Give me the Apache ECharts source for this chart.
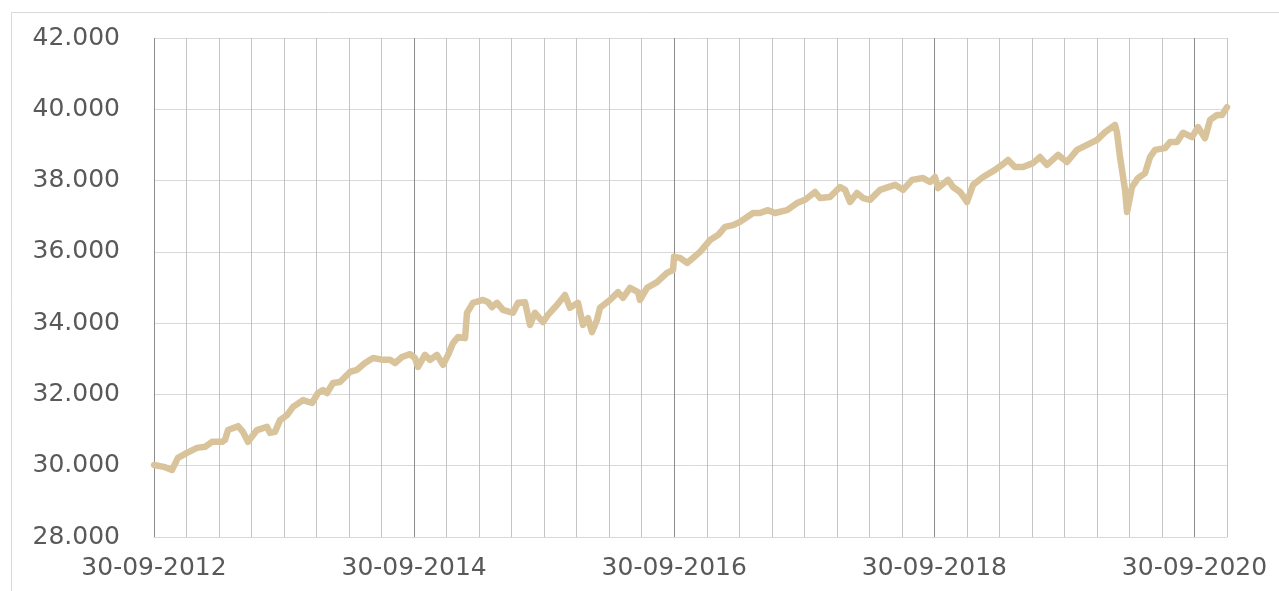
<!DOCTYPE html>
<html>
<head>
<meta charset="utf-8">
<script src="https://cdn.jsdelivr.net/npm/echarts@6/dist/echarts.min.js"></script>
<style>
html,body{margin:0;padding:0;background:#fff;}
#chart{width:1279px;height:591px;}
</style>
</head>
<body>
<div id="chart"></div>
<script>
// x values: months elapsed since 30-09-2012
const monthsSinceStart = [
  0,1.01,1.66,2.21,3.04,3.97,4.71,5.35,6.27,6.55,6.83,7.75,8.21,8.67,9.50,10.43,10.70,11.16,11.63,12.27,
  12.83,13.75,14.58,15.13,15.59,15.96,16.52,17.16,18.08,18.73,19.47,20.21,21.13,21.78,22.24,22.88,23.62,24.08,24.36,25.00,
  25.47,26.11,26.67,27.13,27.59,28.05,28.70,28.88,29.43,30.36,30.82,31.19,31.65,32.20,33.12,33.59,34.23,34.69,35.15,35.89,
  36.35,37.18,37.92,38.38,39.12,39.58,40.04,40.41,40.87,41.15,42.07,42.81,43.27,43.92,44.66,44.84,45.49,46.41,47.33,47.89,
  47.98,48.53,49.18,49.73,50.38,51.30,52.04,52.69,53.42,54.07,55.27,55.91,56.65,57.30,58.41,59.33,60.07,60.99,61.45,62.37,
  63.30,63.76,64.22,64.86,65.42,66.06,66.99,68.37,69.11,69.94,70.95,71.60,72.06,72.34,73.26,73.72,74.37,75.01,75.57,76.49,
  77.60,78.24,78.80,79.44,80.18,81.10,81.75,82.39,83.41,84.24,85.16,86.09,87.01,87.75,88.67,88.85,89.13,89.59,89.78,90.24,
  90.79,91.44,91.90,92.36,93.28,93.74,94.39,94.94,95.77,96.33,96.97,97.44,98.08,98.54,99.00
];
const seriesValues = [
  30020,29960,29880,30220,30360,30500,30530,30670,30670,30720,31000,31110,30950,30670,31000,31090,30920,30950,31280,31420,
  31650,31840,31760,32040,32120,32040,32320,32350,32630,32690,32880,33020,32970,32970,32880,33050,33130,33020,32770,33110,
  32970,33110,32830,33110,33440,33610,33580,34290,34570,34650,34590,34450,34570,34370,34290,34570,34590,33950,34290,34030,
  34230,34510,34790,34430,34570,33950,34140,33750,34090,34430,34650,34870,34710,34990,34870,34650,34990,35150,35410,35490,
  35860,35830,35690,35830,36000,36330,36470,36700,36750,36840,37090,37090,37170,37090,37170,37370,37460,37680,37510,37540,
  37820,37740,37400,37650,37510,37460,37740,37880,37740,38020,38070,37960,38100,37790,38020,37820,37680,37400,37880,38100,
  38300,38440,38580,38380,38380,38490,38660,38440,38720,38520,38860,39000,39140,39360,39560,39340,38660,37740,37120,37820,
  38070,38210,38660,38860,38910,39080,39080,39340,39220,39500,39190,39700,39840,39840,40060
];
// x-axis tick labels at 0, 24, 48, 72, 96 months
const xTickLabels = ['30-09-2012','30-09-2014','30-09-2016','30-09-2018','30-09-2020'];
const yMin = 28000, yMax = 42000, yStep = 2000;

const data = monthsSinceStart.map((m, i) => [m, seriesValues[i]]);
const FONT = 'DejaVu Sans';

const vColors = ['#8c8c8c','#c4c4c4','#c4c4c4','#c4c4c4','#c4c4c4','#c4c4c4','#c4c4c4','#c4c4c4'];

const chart = echarts.init(document.getElementById('chart'), null, {renderer: 'canvas'});
chart.setOption({
  animation: false,
  backgroundColor: '#ffffff',
  graphic: [
    {type: 'line', shape: {x1: 11.5, y1: 12.5, x2: 11.5, y2: 591}, style: {stroke: '#d9d9d9', lineWidth: 1}, silent: true},
    {type: 'line', shape: {x1: 11.5, y1: 12.5, x2: 1279, y2: 12.5}, style: {stroke: '#d9d9d9', lineWidth: 1}, silent: true}
  ],
  grid: {left: 154, right: 52, top: 38, bottom: 54, containLabel: false},
  xAxis: {
    type: 'value',
    min: 0, max: 99, interval: 3,
    axisLine: {show: true, lineStyle: {color: '#d9d9d9', width: 1}},
    axisTick: {show: false},
    splitLine: {show: true, lineStyle: {color: vColors, width: 1}},
    axisLabel: {
      show: true, margin: 19, color: '#595959', fontFamily: FONT, fontSize: 25,
      showMinLabel: true, showMaxLabel: false,
      formatter: function (v) {
        if (Math.abs(v % 24) < 1e-6) return xTickLabels[Math.round(v / 24)] || '';
        return '';
      }
    }
  },
  yAxis: {
    type: 'value',
    min: yMin, max: yMax, interval: yStep,
    axisLine: {show: false},
    axisTick: {show: false},
    splitLine: {show: true, lineStyle: {color: '#d9d9d9', width: 1}},
    axisLabel: {
      margin: 34, color: '#595959', fontFamily: FONT, fontSize: 25,
      formatter: function (v) { return (v / 1000).toFixed(3); }
    }
  },
  series: [{
    type: 'line',
    data: data,
    showSymbol: false,
    symbol: 'none',
    lineStyle: {color: '#d9c39b', width: 6.5, cap: 'round', join: 'round'},
    z: 5
  }]
});
</script>
</body>
</html>
